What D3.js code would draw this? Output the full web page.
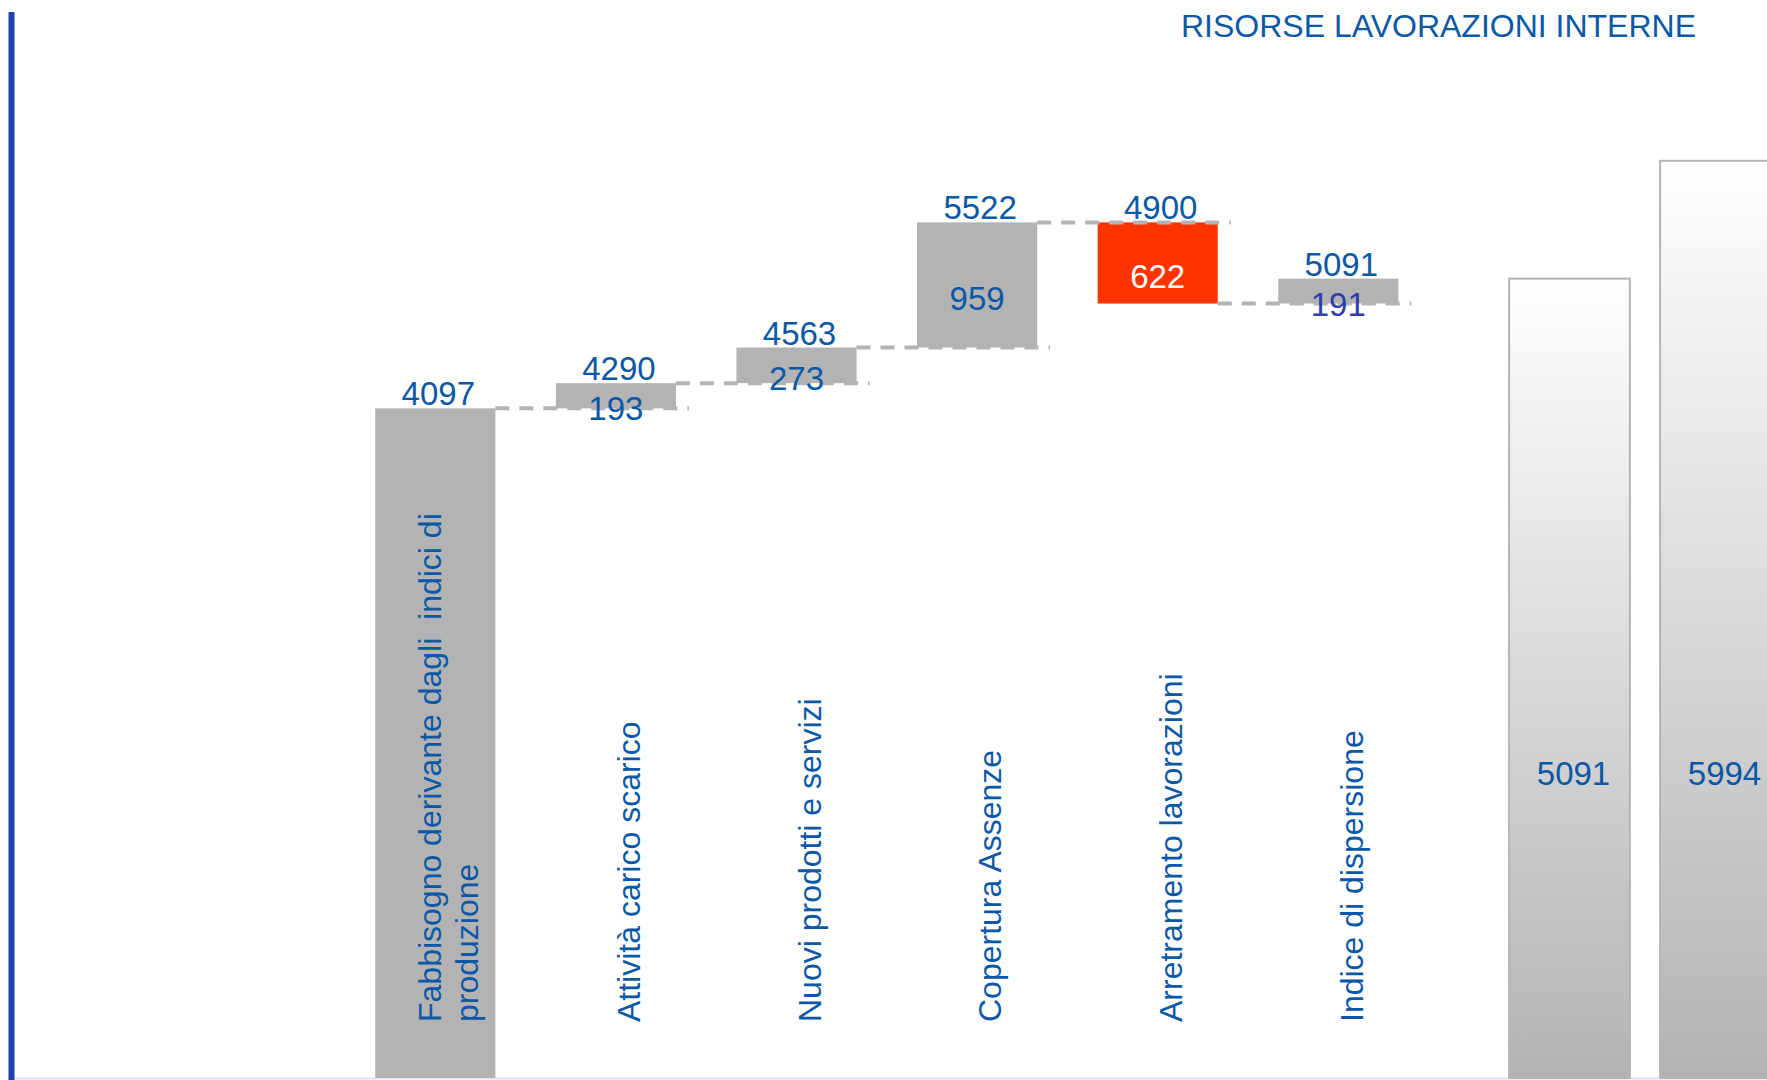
<!DOCTYPE html>
<html><head><meta charset="utf-8">
<script src="https://cdn.jsdelivr.net/npm/d3@7"></script>
<style>
html,body{margin:0;padding:0;background:#fff;}
svg{display:block;font-family:"Liberation Sans",Arial,sans-serif;}
</style>
</head><body>
<svg id="chart" width="1767" height="1080"></svg>
<script>
// ---- data ----
const chartTitle = "RISORSE LAVORAZIONI INTERNE";
const stepKeys = ["fabbisogno", "carico", "nuovi", "assenze", "arretramento", "dispersione"];
const stepLabels = [
  ["Fabbisogno derivante dagli  indici di", "produzione"],
  ["Attività carico scarico"],
  ["Nuovi prodotti e servizi"],
  ["Copertura Assenze"],
  ["Arretramento lavorazioni"],
  ["Indice di dispersione"]
];
const startValue = 4097;
const deltas = [193, 273, 959, -622, 191];
const totalKeys = ["totale1", "totale2"];
const totalValues = [5091, 5994];

// ---- setup ----
const W = 1767, H = 1080;
const plotBottom = 1078;
const svg = d3.select("#chart");
const blue = "#0b58a6";
const gray = "#b3b3b3";
const numSize = 33;

const defs = svg.append("defs");
const grad = defs.append("linearGradient").attr("id", "totGrad")
  .attr("x1", 0).attr("y1", 0).attr("x2", 0).attr("y2", 1);
grad.append("stop").attr("offset", "0%").attr("stop-color", "#ffffff");
grad.append("stop").attr("offset", "100%").attr("stop-color", "#b3b3b3");

const y = d3.scaleLinear().domain([4000, 6000]).range([421, 160]);
const x = d3.scaleBand().domain(stepKeys).range([345, 1428.6])
  .paddingInner(0.335).paddingOuter(0.1675);
const xt = d3.scaleBand().domain(totalKeys).range([1494, 1796])
  .paddingInner(0.2).paddingOuter(0.1);

// build steps
const steps = [];
let cum = startValue;
steps.push({key: stepKeys[0], from: null, to: startValue, delta: null});
deltas.forEach((d, i) => {
  steps.push({key: stepKeys[i + 1], from: cum, to: cum + d, delta: d});
  cum += d;
});

// baseline and left axis line
svg.append("line").attr("x1", 14).attr("x2", W).attr("y1", plotBottom + 0.5).attr("y2", plotBottom + 0.5)
  .attr("stroke", "#e2e2ee").attr("stroke-width", 2);
svg.append("line").attr("x1", 11.5).attr("x2", 11.5).attr("y1", 12).attr("y2", H)
  .attr("stroke", "#2141ad").attr("stroke-width", 6);

// title
svg.append("text").attr("x", 1696).attr("y", 37).attr("text-anchor", "end")
  .attr("font-size", 32).attr("fill", blue).text(chartTitle);

// step bars
svg.selectAll("rect.step").data(steps).join("rect").attr("class", "step")
  .attr("x", d => x(d.key))
  .attr("width", x.bandwidth())
  .attr("y", d => d.from === null ? y(d.to) : y(Math.max(d.from, d.to)))
  .attr("height", d => d.from === null ? plotBottom - y(d.to) : Math.abs(y(d.from) - y(d.to)))
  .attr("fill", d => d.delta !== null && d.delta < 0 ? "#ff3300" : gray);

// total bars
svg.selectAll("rect.total").data(totalValues).join("rect").attr("class", "total")
  .attr("x", (d, i) => xt(totalKeys[i]))
  .attr("width", xt.bandwidth())
  .attr("y", d => y(d))
  .attr("height", d => plotBottom - y(d))
  .attr("fill", "url(#totGrad)")
  .attr("stroke", "#b4b4b4").attr("stroke-width", 2);

// connectors
const conns = steps.slice(1).map((s, i) => ({
  level: s.from,
  x1: x(steps[i].key) + x.bandwidth(),
  x2: x(s.key) + x.bandwidth() + 13
}));
svg.selectAll("line.conn").data(conns).join("line").attr("class", "conn")
  .attr("x1", d => d.x1).attr("x2", d => d.x2)
  .attr("y1", d => y(d.level)).attr("y2", d => y(d.level))
  .attr("stroke", gray).attr("stroke-width", 4).attr("stroke-dasharray", "14,10");

// cumulative value labels
svg.selectAll("text.cum").data(steps).join("text").attr("class", "cum")
  .attr("x", d => x(d.key) + x.bandwidth() / 2 + 3)
  .attr("y", d => y(d.from === null ? d.to : Math.max(d.from, d.to)) - 3)
  .attr("text-anchor", "middle").attr("font-size", numSize).attr("fill", blue)
  .text(d => d.to);

// delta labels
svg.selectAll("text.delta").data(steps.slice(1)).join("text").attr("class", "delta")
  .attr("x", d => x(d.key) + x.bandwidth() / 2)
  .attr("y", d => (y(d.from) + y(d.to)) / 2 + 13)
  .attr("dy", "0.35em")
  .attr("text-anchor", "middle").attr("font-size", numSize)
  .attr("fill", (d, i) => d.delta < 0 ? "#ffffff" : (i === steps.length - 2 ? "#2b3fae" : blue))
  .text(d => Math.abs(d.delta));

// total labels
svg.selectAll("text.totlab").data(totalValues).join("text").attr("class", "totlab")
  .attr("x", (d, i) => xt(totalKeys[i]) + xt.bandwidth() / 2 + 4)
  .attr("y", plotBottom - 305)
  .attr("dy", "0.35em")
  .attr("text-anchor", "middle").attr("font-size", numSize).attr("fill", blue)
  .text(d => d);

// category labels (rotated)
const catG = svg.selectAll("g.cat").data(stepKeys).join("g").attr("class", "cat")
  .attr("transform", k => `translate(${x(k) + x.bandwidth() / 2 + 13},1022) rotate(-90)`);
catG.append("text")
  .attr("font-size", 32).attr("fill", blue).attr("text-anchor", "start")
  .style("white-space", "pre")
  .each(function(k, i) {
    const lines = stepLabels[i];
    const t = d3.select(this);
    const lh = 1.17;
    lines.forEach((ln, j) => {
      t.append("tspan").attr("x", 0)
        .attr("dy", j === 0 ? (0.35 - (lines.length - 1) * lh / 2) + "em" : lh + "em")
        .text(ln);
    });
  });
</script>
</body></html>
